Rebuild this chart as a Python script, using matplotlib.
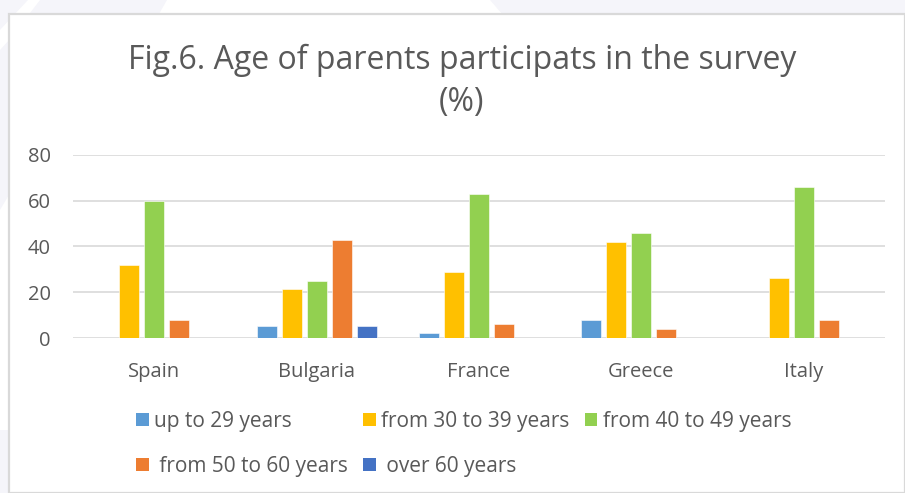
import matplotlib
matplotlib.use("Agg")
import matplotlib.pyplot as plt
import numpy as np
from matplotlib.patches import Rectangle, Polygon, Patch

plt.rcParams['font.family'] = ['Open Sans', 'DejaVu Sans']

countries = ["Spain", "Bulgaria", "France", "Greece", "Italy"]
series_names = ["up to 29 years", "from 30 to 39 years", "from 40 to 49 years",
                " from 50 to 60 years", " over 60 years"]
up_to_29 = [0, 5.4, 2, 8, 0]
from_30_39 = [32, 21.6, 29, 42, 26]
from_40_49 = [60, 24.8, 63, 46, 66]
from_50_60 = [8, 42.7, 6, 4, 8]
over_60 = [0, 5.4, 0, 0, 0]
yticks = [0, 20, 40, 60, 80]
title_line1 = "Fig.6. Age of parents participats in the survey"
title_line2 = "(%)"

series = [up_to_29, from_30_39, from_40_49, from_50_60, over_60]
colors = ["#5B9BD5", "#FFC000", "#92D050", "#ED7D31", "#4472C4"]

W, H = 905, 493
fig = plt.figure(figsize=(W / 100, H / 100), dpi=100, facecolor="#f5f5fa")

def fx(x):
    return x / W

def fy(y):
    return 1 - y / H

# background decoration
bg = [
    Polygon([(fx(167), fy(0)), (fx(490), fy(0)), (fx(502), fy(14)), (fx(159), fy(14))], closed=True),
    Polygon([(fx(0), fy(210)), (fx(9), fy(195)), (fx(9), fy(430)), (fx(0), fy(430))], closed=True),
    Polygon([(fx(0), fy(30)), (fx(28), fy(0)), (fx(40), fy(0)), (fx(9), fy(40)), (fx(0), fy(50))], closed=True),
]
for p in bg:
    p.set_transform(fig.transFigure)
    p.set_facecolor("white")
    p.set_edgecolor("none")
    p.set_zorder(-2)
    fig.patches.append(p)
frame = Rectangle((fx(9), 0), 1 - fx(9), fy(14), transform=fig.transFigure,
                  facecolor="white", edgecolor="#d9d9d9", linewidth=1.6, zorder=-1)
fig.patches.append(frame)

ax = fig.add_axes([fx(73), fy(338), fx(885) - fx(73), fy(154.7) - fy(338)])
ax.set_zorder(1)
ax.set_facecolor("none")

x = np.arange(len(countries))
slot = 25 / 162.4
bw = 20 / 162.4
handles = []
for i, (vals, c) in enumerate(zip(series, colors)):
    ax.bar(x + (i - 2) * slot, vals, width=bw, color=c, edgecolor="white", linewidth=0.4, zorder=3)
    handles.append(Patch(facecolor=c, edgecolor="none", label=series_names[i]))

ax.set_xlim(-0.5, len(countries) - 0.5)
ax.set_ylim(0, 80)
ax.set_yticks(yticks)
ax.set_xticks(x)
ax.set_xticklabels(countries)
ax.grid(axis="y", color="#d9d9d9", linewidth=1.2, zorder=0)
ax.set_axisbelow(True)
for s in ["top", "right", "left", "bottom"]:
    ax.spines[s].set_visible(False)
ax.tick_params(axis="both", length=0, labelsize=14.5, labelcolor="#595959")
ax.tick_params(axis="y", pad=16)
ax.tick_params(axis="x", pad=17)

fig.text(fx(462), fy(60), title_line1, ha="center", va="center", fontsize=23, color="#595959")
fig.text(fx(462), fy(102), title_line2, ha="center", va="center", fontsize=23, color="#595959")

order = [0, 3, 1, 4, 2]
leg = fig.legend([handles[k] for k in order], [series_names[k] for k in order], ncol=3,
                 loc="upper left", bbox_to_anchor=(fx(136), fy(411)), frameon=False,
                 fontsize=15, labelcolor="#595959", handlelength=0.6, handleheight=0.6,
                 handletextpad=0.25, columnspacing=0.75, labelspacing=1.15, borderaxespad=0,
                 borderpad=0)
leg.set_zorder(2)

fig.savefig("out.png", dpi=100, facecolor=fig.get_facecolor())
